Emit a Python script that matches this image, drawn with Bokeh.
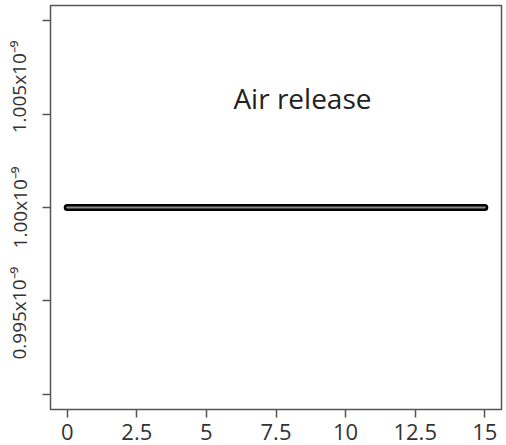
from bokeh.plotting import figure
from bokeh.models import Range1d, FixedTicker, Label
from bokeh.embed import file_html
from bokeh.resources import INLINE

# data
time = [0, 0.5, 1, 1.5, 2, 2.5, 3, 3.5, 4, 4.5, 5, 5.5, 6, 6.5, 7, 7.5,
        8, 8.5, 9, 9.5, 10, 10.5, 11, 11.5, 12, 12.5, 13, 13.5, 14, 14.5, 15]
conc = [1e-9] * len(time)
x_ticks = [0, 2.5, 5, 7.5, 10, 12.5, 15]
x_tick_labels = ["0", "2.5", "5", "7.5", "10", "12.5", "15"]
y_ticks = [0.990e-9, 0.995e-9, 1.000e-9, 1.005e-9, 1.010e-9]
y_tick_labels = ["", "0.995x10\u207b\u2079", "1.00x10\u207b\u2079", "1.005x10\u207b\u2079", ""]
annotation = "Air release"

# vertical nudges of the rotated tick labels (non-breaking spaces before/after)
nb = "\u00a0"
y_label_pad = {0.995e-9: (0, 5), 1.005e-9: (11, 0)}

p = figure(width=506, height=445, output_backend="svg", toolbar_location=None,
           x_range=Range1d(-0.6, 15.6),
           y_range=Range1d(1e-9 - 1.0814e-11, 1e-9 + 1.0814e-11),
           min_border_left=50, min_border_right=5, min_border_top=5, min_border_bottom=36)
p.background_fill_color = "white"
p.border_fill_color = "white"
p.outline_line_color = "#555555"
p.outline_line_width = 1.5
p.grid.visible = False

font = "Open Sans"
p.xaxis.ticker = FixedTicker(ticks=x_ticks)
p.xaxis.major_label_overrides = {t: l for t, l in zip(x_ticks, x_tick_labels)}
p.yaxis.ticker = FixedTicker(ticks=y_ticks)
overrides = {}
for t, l in zip(y_ticks, y_tick_labels):
    pre, post = y_label_pad.get(t, (0, 0))
    overrides[t] = nb * pre + l + nb * post if l else l
p.yaxis.major_label_overrides = overrides
for ax in (p.xaxis, p.yaxis):
    ax.axis_line_color = None
    ax.major_tick_line_color = "#555555"
    ax.major_tick_line_width = 1.5
    ax.major_tick_out = 8
    ax.major_tick_in = 0
    ax.minor_tick_line_color = None
    ax.major_label_text_font = font
    ax.major_label_text_color = "#333333"
p.xaxis.major_label_text_font_size = "22px"
p.xaxis.major_label_standoff = 6
p.yaxis.major_label_text_font_size = "19px"
p.yaxis.major_label_orientation = "vertical"
p.yaxis.major_label_standoff = 10

p.line(time, conc, line_color="black", line_width=7, line_cap="round")
p.line(time, conc, line_color="#8a8a8a", line_width=2, line_cap="round")

p.add_layout(Label(x=8.45, y=1.00584e-9, text=annotation, text_font=font,
                   text_font_size="28px", text_color="#222222",
                   text_align="center", text_baseline="alphabetic"))

open("out.html", "w").write(file_html(p, INLINE))
